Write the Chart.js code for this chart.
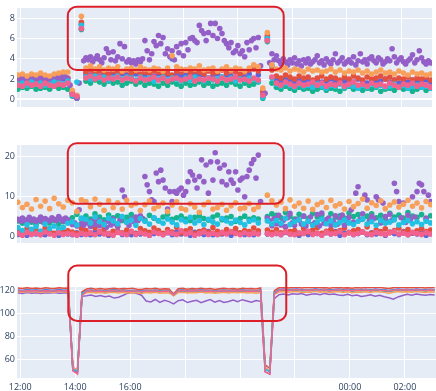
<!DOCTYPE html>
<html>
<head>
<meta charset="utf-8">
<script src="https://cdn.jsdelivr.net/npm/chart.js@4.4.1/dist/chart.umd.min.js"></script>
<style>
  html, body { margin: 0; padding: 0; background: #fff; }
  #wrap { position: relative; width: 436px; height: 391px; overflow: hidden; }
  canvas { position: absolute; left: 0; }
</style>
</head>
<body>
<div id="wrap">
  <canvas id="c1" width="436" height="125" style="top:0px"></canvas>
  <canvas id="c2" width="436" height="130" style="top:125px"></canvas>
  <canvas id="c3" width="436" height="136" style="top:255px"></canvas>
</div>
<script>
// time in minutes after 12:00, 10 minute steps
const t10 = [-5,5,15,25,35,45,55,65,75,85,95,105,115,125,135,145,155,165,175,185,195,205,215,225,235,245,255,265,275,285,295,305,315,325,335,345,355,365,375,385,395,405,415,425,435,445,455,465,475,485,495,505,515,525,535,545,555,565,575,585,595,605,615,625,635,645,655,665,675,685,695,705,715,725,735,745,755,765,775,785,795,805,815,825,835,845,855,865,875,885,895,905];
// 5 minute steps (purple markers)
const t5 = [-5,0,5,10,15,20,25,30,35,40,45,50,55,60,65,70,75,80,85,90,95,100,105,110,115,120,125,130,135,140,145,150,155,160,165,170,175,180,185,190,195,200,205,210,215,220,225,230,235,240,245,250,255,260,265,270,275,280,285,290,295,300,305,310,315,320,325,330,335,340,345,350,355,360,365,370,375,380,385,390,395,400,405,410,415,420,425,430,435,440,445,450,455,460,465,470,475,480,485,490,495,500,505,510,515,520,525,530,535,540,545,550,555,560,565,570,575,580,585,590,595,600,605,610,615,620,625,630,635,640,645,650,655,660,665,670,675,680,685,690,695,700,705,710,715,720,725,730,735,740,745,750,755,760,765,770,775,780,785,790,795,800,805,810,815,820,825,830,835,840,845,850,855,860,865,870,875,880,885,890,895,900,905];

const hiddenHours = [18, 20, 22];

// ---- panel 1 ----
const p1Orange = [2.4,2.5,2.3,2.5,2.4,2.6,2.4,2.3,2.5,2.6,2.7,2.7, 0.9,0.4,8.2,
  3.1,3.3,3.0,3.2,2.9,3.1,3.0,3.2,2.8,3.0,3.1,2.9,3.2,3.0,2.9,3.1,3.0,2.8,3.1,4.3,3.2,3.0,2.9,3.1,3.0,3.3,2.9,3.0,3.1,2.8,3.0,3.2,2.9,3.1,3.0,2.8,3.1,3.4,3.2,
  1.1,6.6,3.4,
  3.0,2.9,3.1,2.8,3.0,2.9,2.7,3.0,2.8,2.9,2.7,2.8,3.0,2.7,2.9,2.6,2.8,2.7,2.9,2.6,2.8,2.5,2.7,2.9,2.6,2.7,2.5,2.8,2.6,2.4,2.7,2.5,2.6,2.4,2.5];
const p1Red = [2.0,2.2,1.9,2.1,2.0,2.2,1.9,2.1,2.0,2.3,2.2,2.1, 0.7,0.3,7.6,
  2.7,2.9,2.6,2.8,2.7,2.5,2.8,2.6,2.7,2.9,2.6,2.8,2.5,2.7,2.6,2.8,2.7,2.5,2.6,2.4,2.8,2.7,2.9,2.6,2.8,2.7,2.5,2.8,2.6,2.7,2.9,2.6,2.8,2.7,2.5,2.7,2.9,3.0,2.8,
  0.8,6.3,2.9,
  2.3,2.1,2.4,2.2,2.0,2.3,2.1,2.2,1.9,2.1,2.3,2.0,2.2,2.1,1.9,2.2,2.0,2.3,2.1,1.9,2.2,2.0,2.1,2.3,2.0,2.2,1.9,2.1,2.0,2.2,1.9,2.1,2.0,2.2,1.9];
const p1Blue = [1.8,1.7,1.9,1.8,2.0,1.7,1.9,1.8,1.7,1.9,2.0,1.6, 0.6,0.2,7.4,
  2.5,2.4,2.6,2.3,2.5,2.4,2.6,2.3,2.5,2.4,2.2,2.5,2.3,2.4,2.6,2.3,2.5,2.2,2.4,4.0,2.5,2.3,2.4,2.2,2.5,2.3,2.4,2.1,2.3,2.5,2.2,2.4,2.3,2.1,2.4,2.2,2.5,3.3,2.4,
  0.5,6.1,3.3,
  1.9,1.7,2.0,1.8,1.6,1.9,1.7,1.8,1.6,1.9,1.7,1.8,2.0,1.7,1.6,1.8,1.9,1.7,2.0,1.8,1.6,1.9,1.7,1.8,2.0,1.7,1.9,1.6,1.8,1.7,1.9,1.8,1.6,1.9,1.7];
const p1Cyan = [1.5,1.6,1.4,1.7,1.5,1.6,1.4,1.5,1.7,1.6,1.5,1.8, 0.4,1.7,7.3,
  2.2,2.0,2.3,2.1,2.2,1.9,2.1,2.3,2.0,2.2,2.1,1.9,2.2,2.0,2.1,1.8,2.0,2.2,1.9,2.1,2.0,1.8,2.1,1.9,2.2,2.0,1.8,2.1,1.9,2.0,2.2,1.9,2.1,1.8,2.0,1.9,2.1,2.0,1.8,
  0.2,6.0,2.1,
  1.5,1.3,1.6,1.4,1.2,1.5,1.3,1.4,1.2,1.5,1.3,1.1,1.4,1.3,1.5,1.2,1.4,1.3,1.1,1.4,1.2,1.5,1.3,1.4,1.2,1.3,1.5,1.2,1.4,1.1,1.3,1.4,1.2,1.3,1.1];
const p1Pink = [1.4,1.3,1.6,1.4,1.5,1.3,1.6,1.4,1.3,1.5,1.4,1.6, 0.5,0.3,7.0,
  2.1,2.3,2.0,2.2,1.9,2.1,2.0,2.2,1.9,2.1,2.0,1.8,2.1,1.9,2.0,2.2,1.9,2.1,1.8,2.0,2.1,1.9,2.0,2.2,1.8,2.0,1.9,2.1,2.0,1.8,2.1,1.9,2.0,2.2,1.9,2.0,1.8,2.1,1.9,
  0.4,5.8,2.2,
  1.6,1.4,1.7,1.5,1.3,1.6,1.4,1.5,1.7,1.4,1.6,1.3,1.5,1.4,1.6,1.3,1.5,1.7,1.4,1.5,1.3,1.6,1.4,1.5,1.3,1.6,1.4,1.2,1.5,1.4,1.6,1.3,1.5,1.4,1.2];
const p1Green = [1.0,1.2,1.1,1.3,1.0,1.1,1.2,1.0,1.3,1.1,1.2,1.0, 0.3,0.1,6.9,
  1.8,1.6,1.9,1.7,1.5,1.8,1.6,1.7,1.4,1.6,1.8,1.5,1.7,1.4,1.6,1.5,1.3,1.6,1.4,1.7,1.5,1.3,1.6,1.4,1.5,1.7,1.4,1.6,1.3,1.5,1.6,1.4,1.7,1.5,1.3,1.6,1.4,1.5,1.7,
  0.1,5.7,1.6,
  1.2,1.0,1.3,1.1,0.9,1.2,1.0,1.1,0.8,1.0,1.2,0.9,1.1,1.0,0.8,1.1,1.3,1.0,1.2,0.9,1.1,1.0,1.2,0.8,1.0,1.1,0.9,1.2,1.0,1.1,0.8,1.0,1.2,0.9,1.1];
const p1Purple = [2.1,2.0,2.2,1.9,2.1,2.2,2.0,1.9,2.1,2.3,2.0,1.9,2.1,2.2,2.0,1.8,2.1,2.2,2.0,2.1,2.3,2.2,2.0,
  1.4,0.6,0.3,0.1,1.6,7.0,
  3.8,4.1,3.9,4.2,3.7,4.0,4.3,3.9,3.6,4.1,5.0,4.6,3.9,4.7,3.8,4.2,5.5,4.0,5.2,3.7,3.9,
  3.6,3.8,3.5,3.9,3.7,4.0,
  5.8,4.8,3.9,4.5,5.7,5.3,6.3,5.5,6.1,4.5,5.0,4.2,4.8,3.9,5.2,4.6,5.5,4.3,5.6,4.9,6.0,6.1,5.8,5.6,
  7.3,6.8,6.5,5.8,6.6,7.5,6.3,7.5,6.0,7.0,6.5,5.8,
  5.5,5.1,5.6,4.6,4.8,5.3,4.5,4.8,4.2,5.6,4.9,5.8,6.0,5.1,6.1,3.3,0.3,0.6,5.9,
  3.6,4.5,3.9,4.3,3.8,3.5,4.0,3.7,3.4,3.9,3.6,4.1,3.5,3.8,3.3,3.9,3.6,4.0,3.5,3.7,3.9,4.3,3.6,3.8,3.4,4.0,3.7,3.5,3.9,4.5,3.6,3.8,4.1,3.5,3.7,3.9,3.6,4.2,3.4,3.8,4.5,3.7,3.9,3.5,4.0,4.2,3.8,3.6,4.1,3.9,3.5,3.7,4.0,3.8,5.0,4.2,3.6,3.9,4.1,3.7,3.5,3.8,4.0,4.4,3.6,3.9,4.8,4.1,3.7,3.5,3.8,3.6];

// ---- panel 2 ----
const p2Orange = [8.5,7.2,8.0,6.8,9.2,7.5,8.8,6.9,9.5,8.1,7.3,9.0, 8.4,6.2,9.1,
  8.7,7.4,9.3,8.0,6.5,8.9,7.2,8.4,6.8,9.0,7.7,8.2,6.4,7.9,8.8,6.9,7.5,8.3,6.2,7.8,8.6,7.0,6.6,8.1,7.3,6.0,7.9,8.5,6.8,7.2,8.0,6.5,7.6,8.4,6.9,7.1,8.2,6.7,7.4,
  null,10.3,8.9,
  7.8,8.6,6.9,9.1,7.5,8.3,7.0,8.8,6.7,7.9,8.5,7.2,9.0,7.6,8.1,6.8,8.7,7.4,8.2,9.3,7.0,8.4,7.7,8.9,6.9,7.8,8.6,7.3,8.0,9.0,7.5,8.3,7.1,8.7,7.9];
const p2Green = [3.8,3.2,4.1,3.5,2.9,3.7,4.3,3.3,3.9,3.0,3.6,4.0, 4.6,5.5,4.2,
  5.0,4.3,5.6,4.8,4.1,5.3,4.6,5.1,3.9,4.7,5.4,4.4,4.9,4.0,5.2,4.5,3.8,4.8,5.5,4.2,4.6,5.0,4.3,3.9,4.7,5.1,4.4,4.0,4.8,5.3,4.1,4.5,4.9,3.7,4.4,5.0,4.2,4.6,4.3,
  null,4.9,5.6,
  5.2,4.6,5.9,4.9,4.3,5.5,5.0,4.4,5.7,4.8,5.3,4.1,5.6,4.7,5.1,4.5,5.8,4.9,5.4,4.2,5.0,5.6,4.6,5.2,4.4,5.7,4.8,5.3,4.5,5.9,5.0,4.7,5.4,4.3,5.1];
const p2Cyan = [2.1,1.4,2.8,1.7,2.4,1.2,3.0,1.9,2.5,1.6,2.2,3.2, 3.6,2.8,4.5,
  4.2,3.3,4.8,3.6,2.9,4.5,3.8,3.1,4.9,3.5,4.0,2.7,4.4,3.7,3.0,4.6,3.9,3.2,4.3,3.5,2.8,4.1,3.6,4.7,3.3,3.9,2.9,4.2,3.5,3.0,4.4,3.8,3.2,4.0,3.4,2.8,3.7,4.1,3.3,
  null,3.8,3.1,
  3.9,3.2,4.4,2.9,3.6,4.1,3.0,3.7,2.7,3.5,4.2,3.1,3.8,2.8,3.4,4.0,3.3,2.9,3.7,4.3,3.0,3.6,2.7,3.9,3.2,3.5,4.1,2.8,3.4,3.9,3.1,3.6,2.9,3.7,3.3];
const p2Red = [1.2,0.5,1.8,0.9,1.5,0.4,2.0,1.1,0.7,1.6,0.8,1.3, 1.0,0.6,1.9,
  1.4,0.7,2.1,1.0,1.7,0.5,1.2,2.3,0.8,1.5,1.1,0.6,1.9,1.3,0.9,2.0,1.4,0.7,1.6,1.0,2.2,0.8,1.3,1.8,0.6,1.1,1.5,0.9,2.1,1.2,0.7,1.6,1.0,1.9,0.8,1.4,1.1,2.0,1.3,
  null,1.5,0.9,
  1.6,0.8,2.2,1.1,1.4,0.6,1.9,1.0,1.5,2.1,0.7,1.2,1.7,0.9,1.4,2.0,0.8,1.3,1.6,1.0,2.3,0.7,1.5,1.1,1.8,0.9,1.4,2.0,1.0,1.6,0.8,1.3,1.9,1.1,1.5];
const p2Blue = [0.4,0.9,0.2,0.7,0.5,1.1,0.3,0.8,0.6,0.2,1.0,0.5, 0.3,0.8,0.4,
  0.7,0.3,1.0,0.5,0.8,0.2,0.6,1.2,0.4,0.9,0.3,0.7,0.5,1.1,0.2,0.6,0.9,0.4,0.8,0.3,1.0,0.5,0.7,0.2,0.9,0.6,0.4,1.1,0.3,0.8,0.5,0.7,0.2,1.0,0.6,0.4,0.9,0.3,0.7,
  null,0.5,0.8,
  0.6,0.3,0.9,0.5,1.2,0.2,0.7,0.4,1.0,0.6,0.3,0.8,0.5,1.1,0.2,0.7,0.9,0.4,0.6,1.0,0.3,0.8,0.5,0.7,0.2,0.9,0.6,0.4,1.1,0.3,0.7,0.5,0.8,0.2,0.6];
const p2Pink = [0.6,0.2,0.9,0.4,0.7,0.3,1.0,0.5,0.2,0.8,0.4,0.6, 0.5,0.2,0.7,
  0.4,0.8,0.3,1.1,0.5,0.7,0.2,0.9,0.6,0.3,1.2,0.4,0.8,0.5,0.2,1.0,0.6,0.3,0.9,0.7,0.4,1.3,0.5,0.8,0.2,0.6,1.0,0.4,0.7,0.3,0.9,0.5,1.1,0.6,0.3,0.8,0.4,0.7,0.5,
  null,0.6,0.3,
  0.7,0.4,1.0,0.5,0.3,0.8,0.6,1.2,0.4,0.7,0.2,0.9,0.5,0.6,1.1,0.3,0.8,0.4,0.7,1.0,0.5,0.3,0.9,0.6,0.4,0.8,1.1,0.5,0.7,0.3,0.9,0.6,0.4,0.8,0.5];
const p2Purple = [4.2,3.8,4.5,3.6,4.0,4.7,3.9,4.3,3.7,4.1,4.8,3.5,4.4,4.0,3.8,4.6,4.2,3.9,4.9,4.3,3.7,4.5,4.1,
  3.6,2.9,3.3,2.5,6.6,3.1,2.7,3.5,
  3.2,2.4,3.8,2.9,4.1,2.6,3.5,3.0,2.2,3.7,2.8,4.3,3.1,2.5,3.9,11.6,9.9,3.4,2.7,
  4.2,3.6,4.8,3.9,5.1,4.4,
  15.0,12.9,11.2,9.1,8.7,15.9,13.7,16.6,14.1,12.1,6.8,11.2,8.7,11.2,10.8,11.6,12.1,10.3,11.2,13.7,16.2,15.4,14.1,12.1,15.0,19.2,13.7,17.9,10.8,18.7,14.1,21.0,18.7,17.1,13.7,17.9,12.9,16.2,14.1,13.3,16.2,11.6,14.1,14.6,9.9,15.0,16.6,18.3,19.3,14.6,20.4,
  8.7,null,null,4.5,
  3.8,2.6,4.4,3.1,5.2,2.8,3.9,2.4,4.6,5.7,3.3,2.7,4.2,4.0,3.0,5.0,2.5,3.6,4.8,2.9,3.4,5.4,2.6,5.8,3.2,4.1,4.5,2.8,3.7,5.1,3.0,4.3,5.3,2.7,3.9,4.7,6.6,3.5,10.8,12.4,4.2,5.6,10.3,9.1,3.8,5.0,4.4,9.9,9.1,3.3,8.3,4.9,3.6,5.5,4.0,13.3,11.2,8.7,4.6,8.3,3.4,5.2,4.1,9.9,4.8,11.2,13.3,12.9,11.2,4.5,10.3,8.7];

// ---- panel 3 ----
const p3Red = [122.3,121.8,122.6,122.0,122.4,121.7,122.5,122.1,121.9,122.6,122.2,122.4, 53,50,119,
  121.5,122.0,121.3,121.8,121.2,121.7,122.1,121.4,121.9,121.6,122.2,121.3,121.0,121.8,121.5,122.0,121.2,121.7,121.4,117.0,121.6,122.1,121.3,121.9,121.5,122.2,121.4,121.8,121.1,121.7,122.0,121.5,121.9,121.3,122.1,121.6,121.8,121.4,122.4,
  55,52,120,
  122.5,123.0,122.4,122.8,123.1,122.3,122.9,122.6,123.2,122.5,122.8,122.2,122.7,123.0,122.4,122.6,122.1,122.8,122.3,122.9,122.5,123.1,122.7,122.4,122.0,122.6,123.2,122.8,123.0,122.5,123.1,122.7,122.4,122.9,122.6];
const p3Blue = [120.6,120.2,120.9,120.4,120.7,120.1,120.8,120.5,120.3,120.9,120.4,120.6, 52,49,118,
  120.2,120.6,120.0,120.4,119.8,120.3,120.7,120.1,120.5,119.9,120.4,120.2,119.7,120.3,120.0,120.6,119.9,120.4,120.1,116.5,120.3,120.7,120.0,120.5,120.2,120.8,120.1,120.4,119.8,120.3,120.6,120.0,120.5,120.2,120.7,120.1,120.4,120.0,120.6,
  52,49,118.5,
  121.0,121.4,120.8,121.2,121.5,120.7,121.1,120.9,121.6,120.8,121.3,120.6,121.0,121.4,120.7,121.2,120.5,121.1,120.8,121.3,120.6,121.5,121.0,120.7,120.2,120.9,121.4,121.1,121.3,120.8,121.5,121.0,120.7,121.2,120.9];
const p3Cyan = [120.1,119.8,120.4,119.9,120.3,119.7,120.2,120.0,119.8,120.4,119.9,120.2, 51,50,117.5,
  119.8,120.2,119.6,120.0,119.4,119.9,120.3,119.7,120.1,119.5,120.0,119.8,119.3,119.9,119.6,120.2,119.5,120.0,119.7,116.4,119.9,120.3,119.6,120.1,119.8,120.4,119.7,120.0,119.4,119.9,120.2,119.6,120.1,119.8,120.3,119.7,120.0,119.6,120.2,
  51,49.5,118,
  120.6,121.0,120.4,120.8,121.1,120.3,120.7,120.5,121.2,120.4,120.9,120.2,120.6,121.0,120.3,120.8,120.1,120.7,120.4,120.9,120.2,121.1,120.6,120.3,119.8,120.5,121.0,120.7,120.9,120.4,121.1,120.6,120.3,120.8,120.5];
const p3Green = [119.4,119.0,119.7,119.2,119.6,118.9,119.5,119.3,119.1,119.7,119.2,119.5, 52,49,117,
  119.3,119.7,119.1,119.5,118.9,119.4,119.8,119.2,119.6,119.0,119.5,119.3,118.8,119.4,119.1,119.7,119.0,119.5,119.2,116.0,119.4,119.8,119.1,119.6,119.3,119.9,119.2,119.5,118.9,119.4,119.7,119.1,119.6,119.3,119.8,119.2,119.5,119.1,119.7,
  52,49,117.5,
  120.1,120.5,119.9,120.3,120.6,119.8,120.2,120.0,120.7,119.9,120.4,119.7,120.1,120.5,119.8,120.3,119.6,120.2,119.9,120.4,119.7,120.6,120.1,119.8,119.3,120.0,120.5,120.2,120.4,119.9,120.6,120.1,119.8,120.3,120.0];
const p3Pink = [119.9,119.5,120.2,119.7,120.1,119.4,120.0,119.8,119.6,120.2,119.7,120.0, 50,47,116,
  119.6,120.0,119.4,119.8,119.2,119.7,120.1,119.5,119.9,119.3,119.8,119.6,119.1,119.7,119.4,120.0,119.3,119.8,119.5,116.3,119.7,120.1,119.4,119.9,119.6,120.2,119.5,119.8,119.2,119.7,120.0,119.4,119.9,119.6,120.1,119.5,119.8,119.4,120.0,
  49,47,117,
  120.4,120.8,120.2,120.6,120.9,120.1,120.5,120.3,121.0,120.2,120.7,120.0,120.4,120.8,120.1,120.6,119.9,120.5,120.2,120.7,120.0,120.9,120.4,120.1,119.6,120.3,120.8,120.5,120.7,120.2,120.9,120.4,120.1,120.6,120.3];
const p3Orange = [119.0,118.6,119.3,118.8,119.2,118.5,119.1,118.9,118.7,119.3,118.8,119.1, 53,50,116.5,
  118.2,118.6,117.9,118.4,117.8,118.3,118.7,118.0,118.5,117.9,118.4,118.1,117.6,118.3,117.9,118.5,117.8,118.2,118.0,115.4,118.3,118.7,117.9,118.4,118.1,118.8,118.0,118.3,117.7,118.2,118.6,118.0,118.5,118.1,118.7,117.9,118.3,117.8,118.4,
  53,50,117,
  118.8,119.2,118.6,119.0,119.3,118.5,118.9,118.7,119.4,118.6,119.1,118.3,118.8,119.2,118.5,119.0,118.2,118.9,118.6,119.1,118.4,119.3,118.8,118.5,117.8,118.7,119.2,118.9,119.1,118.6,119.3,118.8,118.5,119.0,118.7];
const p3Purple = [118.0,117.5,118.3,117.8,118.2,117.6,118.1,117.9,118.4,117.7,118.0,118.2, 50,48,115,
  115.5,116.2,115.0,115.8,114.6,115.3,113.5,114.2,116.0,117.8,118.3,117.5,116.0,111.0,110.2,112.3,109.8,111.5,110.4,108.5,111.2,112.0,109.6,110.8,111.6,109.4,110.9,112.2,110.0,111.3,109.7,110.6,111.8,110.3,112.1,111.0,109.8,111.4,110.7,
  49,47,113,
  116.5,117.0,116.2,117.3,116.8,117.5,116.0,116.9,117.2,116.4,117.6,116.7,117.1,116.3,115.8,116.9,115.5,116.2,115.0,115.6,116.4,115.1,116.0,114.6,113.8,112.6,114.5,115.7,116.8,116.1,117.0,116.5,115.9,116.7,116.2];

// highlight boxes: [x from, x to, y top, y bottom] in data units
const box1 = [105, 581, 9.15, 2.89];
const box2 = [105, 581, 23.4, 8.1];
const box3 = [105, 581, 141.9, 93.5];

const colors = {
  blue: '#5c66dc', red: '#e4503d', green: '#16b48e', purple: '#9460c8',
  orange: '#f89f5a', cyan: '#22c0e2', pink: '#f2628f'
};

function pts(t, v) {
  return v.map((y, k) => ({ x: t[k], y: y }));
}

Chart.defaults.font.family = '"Open Sans", sans-serif';

const bgPlugin = {
  id: 'bg',
  beforeDraw(chart) {
    const a = chart.chartArea, ctx = chart.ctx;
    ctx.save();
    ctx.fillStyle = '#e5ecf6';
    ctx.fillRect(a.left, a.top, a.right - a.left, a.bottom - a.top);
    ctx.restore();
  }
};

const boxPlugin = {
  id: 'box',
  afterDraw(chart, args, opts) {
    if (!opts.rect) return;
    const r = opts.rect, xs = chart.scales.x, ys = chart.scales.y, ctx = chart.ctx;
    const l = xs.getPixelForValue(r[0]), rt = xs.getPixelForValue(r[1]);
    const t = ys.getPixelForValue(r[2]), b = ys.getPixelForValue(r[3]);
    ctx.save();
    ctx.beginPath();
    ctx.roundRect(l, t, rt - l, b - t, 9);
    ctx.lineWidth = 2;
    ctx.strokeStyle = '#dc1e28';
    ctx.stroke();
    ctx.restore();
  }
};

function scatterSets(sets) {
  return sets.map(s => ({
    data: pts(s[0], s[1]),
    backgroundColor: s[2],
    borderWidth: 0,
    pointRadius: 2.8,
    showLine: false
  }));
}

function lineSets(sets) {
  return sets.map(s => ({
    data: pts(t10, s[0]),
    borderColor: s[1],
    borderWidth: 1.5,
    pointRadius: 0,
    fill: false,
    tension: 0
  }));
}

function makeChart(id, type, datasets, y, pad, xh, showX, rect) {
  return new Chart(document.getElementById(id), {
    type: type,
    data: { datasets: datasets },
    plugins: [bgPlugin, boxPlugin],
    options: {
      responsive: false,
      animation: false,
      devicePixelRatio: 1,
      events: [],
      layout: { padding: { top: pad[0], bottom: pad[1], left: 0, right: 0 } },
      plugins: { legend: { display: false }, tooltip: { enabled: false }, box: { rect: rect } },
      scales: {
        x: {
          type: 'linear', min: -7, max: 908,
          border: { display: false },
          grid: { color: '#ffffff', drawTicks: false },
          ticks: {
            display: showX, stepSize: 120, includeBounds: false, autoSkip: false,
            maxRotation: 0, padding: 4, color: '#2a3f5f', font: { size: 9 },
            callback: v => {
              const h = (12 + v / 60) % 24;
              if (hiddenHours.includes(h)) return '';
              return String(h).padStart(2, '0') + ':00';
            }
          },
          afterFit: s => { s.height = xh; }
        },
        y: {
          min: y[0], max: y[1],
          border: { display: false },
          grid: { color: '#ffffff', drawTicks: false, lineWidth: c => (c.tick && c.tick.value === 0 ? 2 : 1) },
          ticks: { stepSize: y[2], includeBounds: false, padding: 2, color: '#2a3f5f', font: { size: 9 } },
          afterFit: s => { s.width = 17; }
        }
      }
    }
  });
}

makeChart('c1', 'scatter', scatterSets([
  [t10, p1Pink, colors.pink], [t10, p1Cyan, colors.cyan], [t10, p1Orange, colors.orange],
  [t5, p1Purple, colors.purple], [t10, p1Green, colors.green], [t10, p1Red, colors.red], [t10, p1Blue, colors.blue]
]), [-0.76, 9.02, 2], [8, 18], 0, false, box1);

makeChart('c2', 'scatter', scatterSets([
  [t10, p2Pink, colors.pink], [t10, p2Cyan, colors.cyan], [t10, p2Orange, colors.orange],
  [t5, p2Purple, colors.purple], [t10, p2Green, colors.green], [t10, p2Red, colors.red], [t10, p2Blue, colors.blue]
]), [-1.77, 22.95, 10], [20, 12], 0, false, box2);

makeChart('c3', 'line', lineSets([
  [p3Pink, colors.pink], [p3Cyan, colors.cyan], [p3Orange, colors.orange],
  [p3Purple, colors.purple], [p3Green, colors.green], [p3Red, colors.red], [p3Blue, colors.blue]
]), [43.6, 123.2, 20], [32, 0], 13, true, box3);
</script>
</body>
</html>
